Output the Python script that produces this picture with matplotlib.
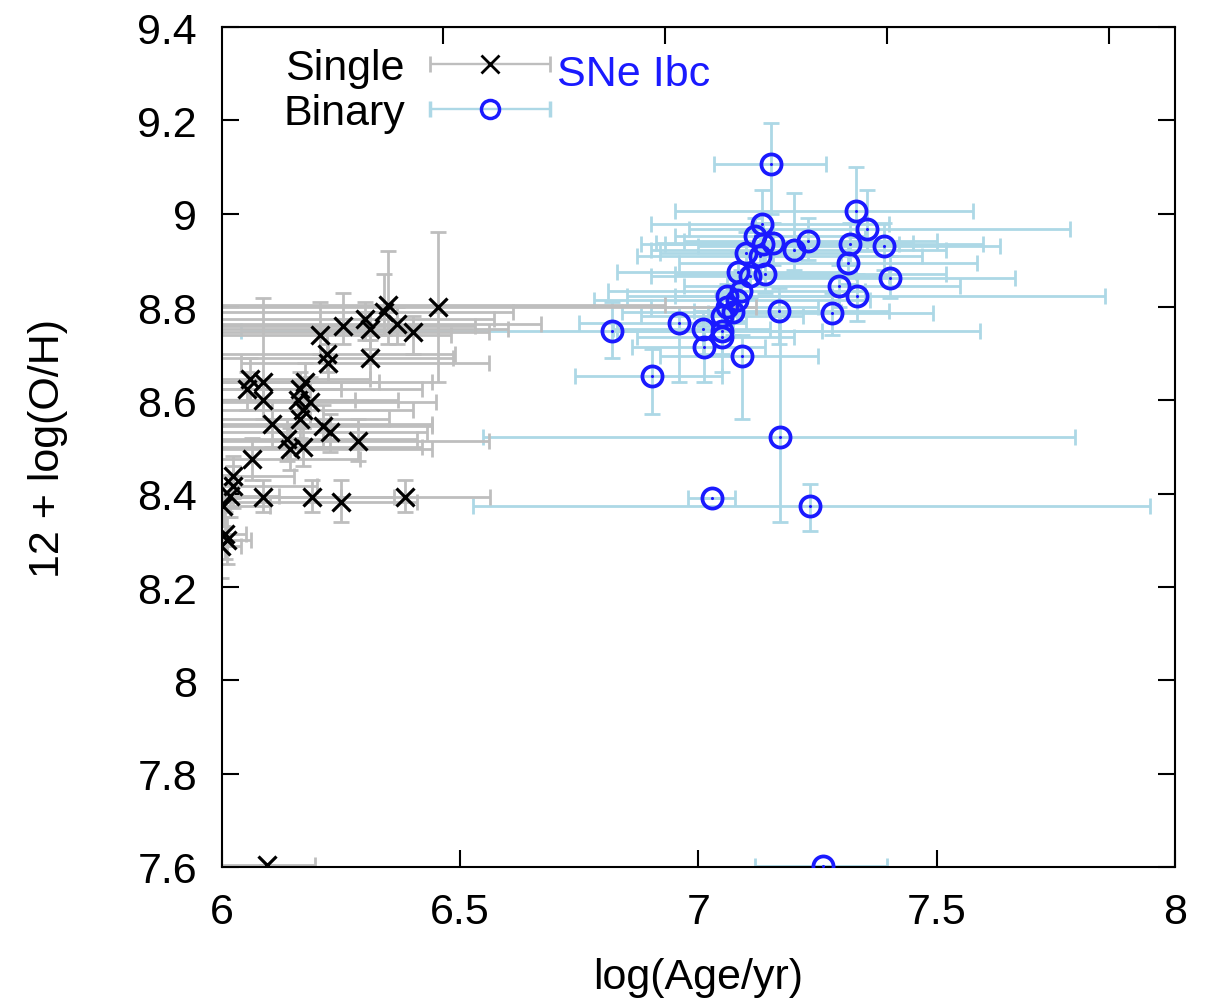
import numpy as np
import matplotlib
matplotlib.use("Agg")
import matplotlib.pyplot as plt
from matplotlib.container import ErrorbarContainer
from matplotlib.legend_handler import HandlerErrorbar

plt.rcParams["font.family"] = ["Liberation Sans", "DejaVu Sans"]

# single-star ages: x, y, and absolute error bar ends
single_x = [6.453, 6.348, 6.340, 6.367, 6.400, 6.300, 6.310, 6.254, 6.206, 6.220,
            6.222, 6.310, 6.174, 6.164, 6.160, 6.185, 6.170, 6.164, 6.059, 6.086,
            6.052, 6.086, 6.105, 6.136, 6.143, 6.170, 6.212, 6.227, 6.285, 6.063,
            6.023, 6.023, 6.086, 6.189, 6.250, 6.384, 6.002, 6.017, 6.006, 5.998,
            6.010, 6.094]
single_y = [8.800, 8.805, 8.790, 8.763, 8.746, 8.775, 8.752, 8.760, 8.740, 8.700,
            8.680, 8.690, 8.640, 8.624, 8.600, 8.596, 8.580, 8.560, 8.646, 8.640,
            8.624, 8.600, 8.550, 8.517, 8.496, 8.500, 8.545, 8.532, 8.513, 8.474,
            8.438, 8.417, 8.393, 8.393, 8.382, 8.393, 8.374, 8.395, 8.314, 8.288,
            8.300, 7.604]
single_xlo = [5.80, 5.80, 5.85, 5.80, 5.85, 5.80, 5.85, 5.80, 5.85, 5.80,
              6.04, 5.85, 5.80, 5.85, 5.90, 5.80, 5.85, 5.90, 5.80, 5.90,
              5.85, 5.90, 5.80, 5.85, 5.90, 5.85, 5.80, 5.85, 5.80, 5.85,
              5.90, 5.85, 5.90, 5.85, 5.90, 5.85, 5.90, 5.90, 5.90, 5.90,
              5.90, 5.80]
single_xhi = [7.12, 6.93, 6.61, 6.67, 6.56, 6.57, 6.60, 6.53, 6.48, 6.49,
              6.56, 6.485, 6.44, 6.42, 6.37, 6.45, 6.40, 6.35, 6.31, 6.33,
              6.25, 6.28, 6.44, 6.41, 6.44, 6.42, 6.44, 6.43, 6.56, 6.29,
              6.15, 6.20, 6.25, 6.36, 6.41, 6.563, 6.10, 6.12, 6.05, 6.04,
              6.06, 6.195]
single_ylo = [8.64, 8.72, 8.74, 8.72, 8.70, 8.73, 8.71, 8.72, 8.70, 8.66,
              8.64, 8.64, 8.60, 8.58, 8.56, 8.55, 8.54, 8.52, 8.60, 8.60,
              8.58, 8.56, 8.50, 8.47, 8.45, 8.46, 8.50, 8.49, 8.47, 8.43,
              8.39, 8.37, 8.36, 8.36, 8.34, 8.36, 8.33, 8.35, 8.26, 8.22,
              8.25, 7.604]
single_yhi = [8.96, 8.92, 8.87, 8.80, 8.78, 8.81, 8.79, 8.83, 8.81, 8.75,
              8.72, 8.73, 8.68, 8.66, 8.64, 8.65, 8.62, 8.60, 8.69, 8.82,
              8.66, 8.64, 8.60, 8.56, 8.54, 8.54, 8.59, 8.57, 8.56, 8.52,
              8.48, 8.46, 8.43, 8.43, 8.43, 8.43, 8.42, 8.44, 8.36, 8.33,
              8.35, 7.604]

# binary-star ages
binary_x = [7.152, 7.331, 7.354, 7.390, 7.318, 7.314, 7.402, 7.295, 7.333, 7.280,
            7.230, 7.200, 7.169, 7.133, 7.156, 7.118, 7.135, 7.100, 7.129, 7.083,
            7.140, 7.108, 7.090, 7.060, 7.080, 7.060, 7.072, 7.050, 7.050, 7.050,
            6.959, 7.010, 7.012, 7.091, 6.818, 6.903, 7.171, 7.028, 7.234, 7.261]
binary_y = [9.107, 9.006, 8.967, 8.930, 8.935, 8.894, 8.862, 8.845, 8.824, 8.787,
            8.941, 8.922, 8.791, 8.978, 8.937, 8.952, 8.935, 8.915, 8.910, 8.875,
            8.870, 8.867, 8.834, 8.824, 8.816, 8.800, 8.789, 8.780, 8.749, 8.736,
            8.766, 8.753, 8.714, 8.695, 8.749, 8.652, 8.521, 8.391, 8.374, 7.602]
binary_xlo = [7.033, 6.95, 6.98, 7.00, 6.93, 6.96, 7.10, 6.97, 6.95, 7.02,
              6.97, 6.90, 6.99, 6.90, 6.91, 6.95, 6.88, 6.92, 6.87, 6.83,
              6.95, 6.90, 6.81, 6.85, 6.78, 6.90, 6.84, 6.88, 6.83, 6.87,
              6.75, 6.82, 6.86, 6.92, 6.04, 6.74, 6.548, 6.978, 6.527, 7.118]
binary_xhi = [7.268, 7.576, 7.78, 7.633, 7.597, 7.585, 7.664, 7.55, 7.853, 7.492,
              7.50, 7.52, 7.40, 7.40, 7.45, 7.35, 7.42, 7.30, 7.47, 7.33,
              7.52, 7.40, 7.35, 7.28, 7.36, 7.25, 7.30, 7.22, 7.26, 7.20,
              7.10, 7.15, 7.14, 7.25, 7.59, 7.05, 7.79, 7.077, 7.948, 7.396]
binary_ylo = [9.00, 8.95, 8.92, 8.88, 8.89, 8.85, 8.82, 8.80, 8.77, 8.74,
              8.90, 8.88, 8.72, 8.93, 8.89, 8.91, 8.89, 8.87, 8.87, 8.83,
              8.83, 8.82, 8.79, 8.78, 8.77, 8.75, 8.74, 8.73, 8.70, 8.66,
              8.64, 8.70, 8.64, 8.56, 8.69, 8.57, 8.34, 8.391, 8.32, 7.602]
binary_yhi = [9.195, 9.10, 9.05, 8.98, 8.98, 8.94, 8.91, 8.89, 8.87, 8.83,
              8.99, 9.045, 8.84, 9.05, 8.98, 8.99, 8.98, 8.96, 8.95, 8.92,
              8.91, 8.91, 8.88, 8.87, 8.86, 8.85, 8.84, 8.83, 8.80, 8.78,
              8.80, 8.79, 8.76, 8.74, 8.81, 8.71, 8.78, 8.391, 8.42, 7.602]

x_ticks = [6, 6.5, 7, 7.5, 8]
x_tick_labels = ["6", "6.5", "7", "7.5", "8"]
y_ticks = [7.6, 7.8, 8.0, 8.2, 8.4, 8.6, 8.8, 9.0, 9.2, 9.4]
y_tick_labels = ["7.6", "7.8", "8", "8.2", "8.4", "8.6", "8.8", "9", "9.2", "9.4"]
top_ticks = [6.464, 6.930, 7.396, 7.862]

GREY = "#bebebe"
LIGHTBLUE = "#add8e6"
BLUE = "#1a1aff"
FS = 31
ELW = 2.0


def err(v, lo, hi):
    v, lo, hi = np.asarray(v), np.asarray(lo), np.asarray(hi)
    return np.vstack([v - lo, hi - v])


fig = plt.figure(figsize=(12.2, 10.04), dpi=100)
ax = fig.add_axes([0.182, 0.1355, 0.781, 0.8365])

bx = np.asarray(binary_x)
by = np.asarray(binary_y)
sx = np.asarray(single_x)
sy = np.asarray(single_y)

ax.errorbar(bx, by, xerr=err(bx, binary_xlo, binary_xhi), yerr=err(by, binary_ylo, binary_yhi),
            fmt="none", ecolor=LIGHTBLUE, elinewidth=ELW, capsize=6, capthick=ELW, zorder=1)
ax.errorbar(sx, sy, xerr=err(sx, single_xlo, single_xhi), yerr=err(sy, single_ylo, single_yhi),
            fmt="none", ecolor=GREY, elinewidth=ELW, capsize=6, capthick=ELW, zorder=2)
ax.plot(sx, sy, "x", color="black", ms=13, mew=2.3, zorder=3)
ax.plot(bx, by, "o", mfc="none", mec=BLUE, ms=14.5, mew=2.7, zorder=4)
ax.plot(bx, by, ".", color=BLUE, ms=2.5, zorder=5)

# legend proxies (NaN data, nothing drawn): horizontal bars only, like the original key
h_single = ax.errorbar([np.nan], [np.nan], xerr=[0.0], fmt="x", color="black", ms=13, mew=2,
                       ecolor=GREY, elinewidth=1.7, capsize=6, capthick=1.7)
h_binary = ax.errorbar([np.nan], [np.nan], xerr=[0.0], fmt="o", mfc="none", mec=BLUE, ms=13,
                       mew=2.5, ecolor=LIGHTBLUE, elinewidth=1.7, capsize=6, capthick=1.7)
ax.legend([h_single, h_binary], ["Single", "Binary"], loc="upper left",
          bbox_to_anchor=(0.055, 0.985), frameon=False, markerfirst=False,
          fontsize=FS, handlelength=2.75, handletextpad=0.6, labelspacing=0.1,
          borderaxespad=0.0, borderpad=0.2,
          handler_map={ErrorbarContainer: HandlerErrorbar(xerr_size=1.4)})
ax.text(0.3515, 0.944, "SNe Ibc", transform=ax.transAxes, color=BLUE, fontsize=FS,
        ha="left", va="center")

ax.set_xlim(6, 8)
ax.set_ylim(7.6, 9.4)
ax.set_xticks(x_ticks)
ax.set_xticklabels(x_tick_labels)
ax.set_yticks(y_ticks)
ax.set_yticklabels(y_tick_labels)
ax.tick_params(axis="both", direction="in", length=12, width=1.5, labelsize=FS, pad=18,
               right=True)
ax.set_xlabel("log(Age/yr)", fontsize=FS, labelpad=18)
ax.set_ylabel("12 + log(O/H)", fontsize=FS, labelpad=50)
for s in ax.spines.values():
    s.set_linewidth(1.5)

top = ax.secondary_xaxis("top")
top.set_xticks(top_ticks)
top.set_xticklabels([])
top.tick_params(direction="in", length=12, width=1.5)

fig.savefig("out.png", dpi=100)
